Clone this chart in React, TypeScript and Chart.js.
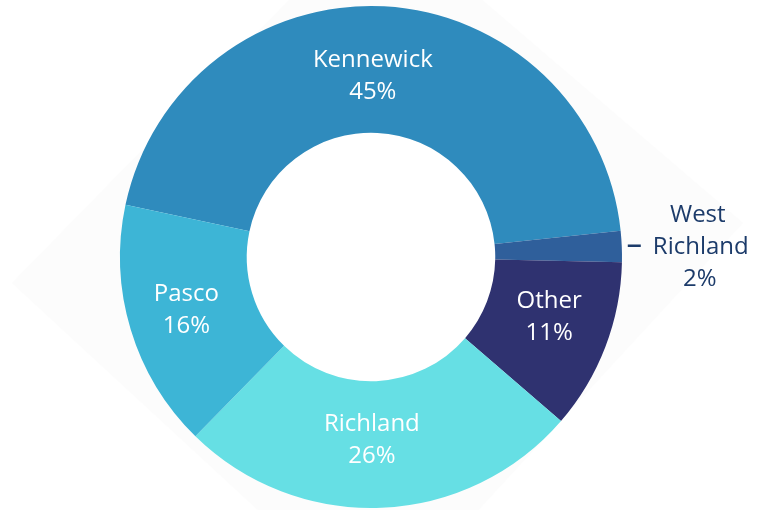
import React, { useEffect, useRef } from "react";
import { Chart, registerables } from "chart.js";

Chart.register(...registerables);

const categories = ["Kennewick", "West Richland", "Other", "Richland", "Pasco"];
const shares = [45, 2, 11, 26, 16];
const percentLabels = ["45%", "2%", "11%", "26%", "16%"];
const colors = ["#2F8BBD", "#2F5F9B", "#2F3270", "#66DFE4", "#3DB5D6"];

const FONT = '"Open Sans", "Noto Sans", sans-serif';

const backdropPlugin = {
  id: "backdrop",
  beforeDraw(chart: any) {
    const ctx = chart.ctx;
    ctx.save();
    ctx.fillStyle = "#ffffff";
    ctx.fillRect(0, 0, chart.width, chart.height);
    ctx.fillStyle = "#FCFCFC";
    ctx.beginPath();
    ctx.moveTo(12, 283);
    ctx.lineTo(377, -90);
    ctx.lineTo(743, 223);
    ctx.lineTo(377, 620);
    ctx.closePath();
    ctx.fill();
    const meta = chart.getDatasetMeta(0);
    const a = meta.data[0];
    if (a) {
      const p = a.getProps(["x", "y", "innerRadius"], true);
      ctx.fillStyle = "#ffffff";
      ctx.beginPath();
      ctx.arc(p.x, p.y, p.innerRadius, 0, Math.PI * 2);
      ctx.fill();
    }
    ctx.restore();
  },
};

const labelPlugin = {
  id: "sliceLabels",
  afterDatasetsDraw(chart: any, _args: any, opts: any) {
    const ctx = chart.ctx;
    const meta = chart.getDatasetMeta(0);
    const nudges = opts.nudges || [];
    ctx.save();
    ctx.textAlign = "center";
    ctx.textBaseline = "middle";
    ctx.font = `24px ${FONT}`;
    meta.data.forEach((arc: any, i: number) => {
      const p = arc.getProps(["x", "y", "startAngle", "endAngle", "innerRadius", "outerRadius"], true);
      const mid = (p.startAngle + p.endAngle) / 2;
      const lh = 32;
      if (i === 1) {
        // outside label
        const ey = p.y + Math.sin(mid) * p.outerRadius;
        const ex = p.x + Math.cos(mid) * p.outerRadius;
        ctx.fillStyle = "#1C3B6A";
        ctx.fillRect(ex + 6, ey - 2, 13, 2.5);
        const tx = ex + 78;
        const lines = ["West", "Richland", percentLabels[i]];
        const offs = [-2, 1, 0];
        lines.forEach((t, k) => ctx.fillText(t, tx + offs[k], ey + (k - 1) * lh + 1));
        return;
      }
      const r = (p.innerRadius + p.outerRadius) / 2;
      const n = nudges[i] || [0, 0];
      const cx = p.x + Math.cos(mid) * r + n[0];
      const cy = p.y + Math.sin(mid) * r + n[1];
      ctx.fillStyle = "#ffffff";
      ctx.fillText(categories[i], cx, cy - lh / 2);
      ctx.fillText(percentLabels[i], cx, cy + lh / 2);
    });
    ctx.restore();
  },
};

export default function App() {
  const ref = useRef<HTMLCanvasElement>(null);
  useEffect(() => {
    if (!ref.current) return;
    const chart = new Chart(ref.current, {
      type: "doughnut",
      data: {
        labels: categories,
        datasets: [
          {
            data: shares,
            backgroundColor: colors,
            borderWidth: 0,
            hoverOffset: 0,
          },
        ],
      },
      options: {
        responsive: false,
        animation: false,
        rotation: 282,
        cutout: "49.5%",
        layout: { padding: { left: 120, right: 142, top: 6, bottom: 2 } },
        plugins: {
          legend: { display: false },
          tooltip: { enabled: false },
          sliceLabels: { nudges: [[-8, 7], [0, 0], [3, -7], [-7, -4], [-5, -1]] },
        } as any,
      },
      plugins: [backdropPlugin, labelPlugin],
    });
    return () => chart.destroy();
  }, []);
  return (
    <div style={{ position: "fixed", left: 0, top: 0, width: 764, height: 510 }}>
      <canvas ref={ref} width={764} height={510} style={{ display: "block" }} />
    </div>
  );
}
